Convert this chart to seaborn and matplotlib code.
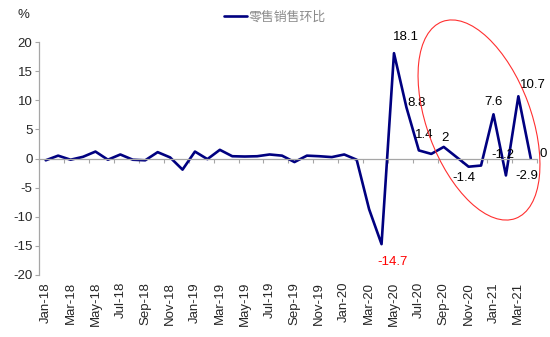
import matplotlib
matplotlib.use("Agg")
import matplotlib.pyplot as plt
from matplotlib.patches import Ellipse
from matplotlib.transforms import IdentityTransform
import seaborn as sns
import pandas as pd

months = ["Jan-18", "Feb-18", "Mar-18", "Apr-18", "May-18", "Jun-18", "Jul-18", "Aug-18",
          "Sep-18", "Oct-18", "Nov-18", "Dec-18", "Jan-19", "Feb-19", "Mar-19", "Apr-19",
          "May-19", "Jun-19", "Jul-19", "Aug-19", "Sep-19", "Oct-19", "Nov-19", "Dec-19",
          "Jan-20", "Feb-20", "Mar-20", "Apr-20", "May-20", "Jun-20", "Jul-20", "Aug-20",
          "Sep-20", "Oct-20", "Nov-20", "Dec-20", "Jan-21", "Feb-21", "Mar-21", "Apr-21"]
retail_mom = [-0.3, 0.5, -0.2, 0.3, 1.2, -0.2, 0.7, -0.2,
              -0.3, 1.1, 0.2, -1.9, 1.2, -0.1, 1.5, 0.4,
              0.35, 0.4, 0.7, 0.5, -0.6, 0.5, 0.4, 0.25,
              0.7, -0.2, -8.7, -14.7, 18.1, 8.8, 1.4, 0.8,
              2.0, 0.3, -1.4, -1.2, 7.6, -2.9, 10.7, 0.0]
series_name = "零售销售环比"

# value labels: month -> (dx, dy) offset in pixels, colour
labelled = {"Apr-20": (11, -18, "red"), "May-20": (12, 16, "black"),
            "Jun-20": (10, 4, "black"), "Jul-20": (5, 15, "black"),
            "Sep-20": (1, 9, "black"), "Nov-20": (-5, -11, "black"),
            "Dec-20": (22, 11, "black"), "Jan-21": (0, 12, "black"),
            "Feb-21": (21, -1, "black"), "Mar-21": (15, 11, "black"),
            "Apr-21": (12, 5, "black")}

df = pd.DataFrame({"idx": range(len(months)), "month": months, "value": retail_mom})

sns.set_style("white")
plt.rcParams["font.family"] = ["Liberation Sans", "Noto Sans CJK SC", "DejaVu Sans"]
plt.rcParams["axes.unicode_minus"] = False

fig = plt.figure(figsize=(5.5, 3.37), dpi=100)
ax = fig.add_axes([0.0718, 0.184, 0.9046, 0.691])

navy = "#000080"
sns.lineplot(data=df, x="idx", y="value", ax=ax, color=navy, linewidth=1.9,
             label=series_name)

ax.set_xlim(-0.5, len(months) - 0.5)
ax.set_ylim(-20, 20)
ax.set_yticks(range(-20, 21, 5))
ax.set_xlabel("")
ax.set_ylabel("")

grey = "#A6A6A6"
for s in ["top", "right"]:
    ax.spines[s].set_visible(False)
ax.spines["left"].set_color(grey)
ax.spines["left"].set_linewidth(0.9)
ax.spines["bottom"].set_position(("data", 0))
ax.spines["bottom"].set_color(grey)
ax.spines["bottom"].set_linewidth(0.9)

# boundary ticks on the zero line, every two months
ax.set_xticks([i - 0.5 for i in range(0, len(months) + 1, 2)])
ax.tick_params(axis="x", which="major", direction="out", length=3, color=grey,
               labelbottom=False, bottom=True)
ax.tick_params(axis="y", direction="out", length=3, color=grey, left=True,
               labelsize=9.5, pad=2)

# month labels along the bottom edge
sec = ax.secondary_xaxis(location=0.0)
sec.set_xticks(list(range(0, len(months), 2)))
sec.set_xticklabels(months[::2], rotation=90, fontsize=9.5)
sec.tick_params(axis="x", length=0, pad=5)
sec.spines["bottom"].set_visible(False)

for m, (dx, dy, c) in labelled.items():
    i = months.index(m)
    v = retail_mom[i]
    txt = f"{v:g}"
    ax.annotate(txt, xy=(i, v), xytext=(dx, dy), textcoords="offset pixels",
                ha="center", va="center", fontsize=9.5, color=c)

# highlight of the recent months
ell = Ellipse((479, 217), width=210, height=104, angle=110.4, fill=False,
              edgecolor="#FF3030", linewidth=0.8, transform=IdentityTransform())
fig.add_artist(ell)

fig.text(17 / 550, 1 - 15 / 337, "%", ha="left", va="center", fontsize=9.5)

ax.legend(loc="center", bbox_to_anchor=(0.5, 1 - 17 / 337),
          bbox_transform=fig.transFigure, frameon=False, handlelength=1.8,
          handletextpad=0.15, prop={"family": ["Noto Sans CJK SC"], "size": 9.3},
          labelcolor="#8C8C8C")

fig.savefig("out.png", dpi=100)
